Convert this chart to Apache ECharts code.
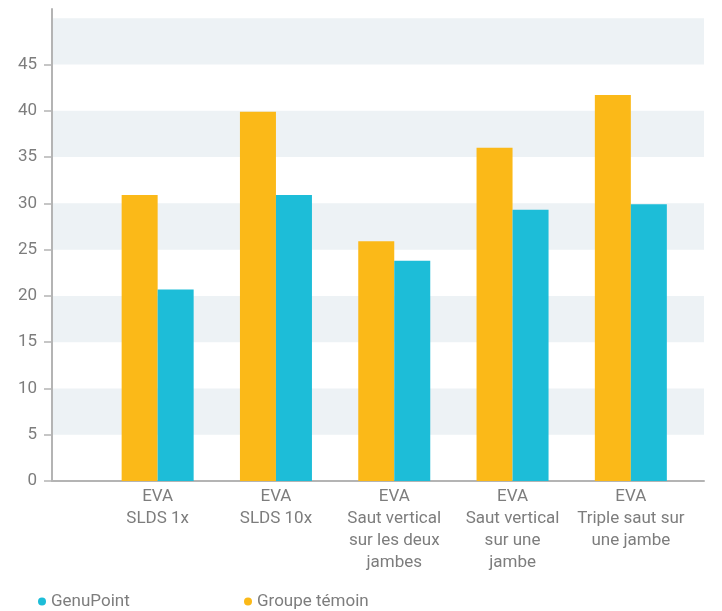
<!DOCTYPE html>
<html>
<head>
<meta charset="utf-8">
<script src="https://cdn.jsdelivr.net/npm/echarts@6/dist/echarts.min.js"></script>
<style>html,body{margin:0;padding:0;background:#fff}#c{width:722px;height:611px}</style>
</head>
<body>
<div id="c"></div>
<script>
const categories = ['EVA\nSLDS 1x', 'EVA\nSLDS 10x', 'EVA\nSaut vertical\nsur les deux\njambes', 'EVA\nSaut vertical\nsur une\njambe', 'EVA\nTriple saut sur\nune jambe'];
const groupeTemoin = [30.9, 39.9, 25.9, 36.0, 41.7];
const genuPoint = [20.7, 30.9, 23.8, 29.3, 29.9];
const yTickLabels = [0, 5, 10, 15, 20, 25, 30, 35, 40, 45];

const textColor = '#7d7d7d';
const axisColor = '#b4b4b4';
const fontFamily = 'Roboto, "Noto Sans", sans-serif';

const chart = echarts.init(document.getElementById('c'), null, {renderer: 'canvas'});
chart.setOption({
  animation: false,
  textStyle: {fontFamily: fontFamily},
  grid: [
    {left: 52, right: 18, top: 9, bottom: 130},
    {left: 98.5, right: 32, top: 9, bottom: 130}
  ],
  xAxis: [
    {gridIndex: 0, type: 'category', data: [''], axisLine: {lineStyle: {color: axisColor, width: 2}}, axisTick: {show: false}, axisLabel: {show: false}},
    {gridIndex: 1, type: 'category', data: categories, axisLine: {show: false}, axisTick: {show: false},
     axisLabel: {color: textColor, fontSize: 17, lineHeight: 22, margin: 5, interval: 0, fontFamily: fontFamily}}
  ],
  yAxis: [
    {gridIndex: 0, type: 'value', min: 0, max: 51, interval: 5,
     axisLine: {show: false}, axisTick: {show: false}, axisLabel: {show: false},
     splitLine: {show: false},
     splitArea: {show: true, areaStyle: {color: ['rgba(255,255,255,0)', '#edf2f5']}}},
    {gridIndex: 1, type: 'value', min: 0, max: 51, interval: 5, offset: 46.5,
     axisLine: {show: true, lineStyle: {color: axisColor, width: 2}},
     axisTick: {show: true, length: 8, lineStyle: {color: axisColor, width: 1.5}, customValues: yTickLabels},
     axisLabel: {color: textColor, fontSize: 17, margin: 15, customValues: yTickLabels, fontFamily: fontFamily},
     splitLine: {show: false}, splitArea: {show: false}}
  ],
  legend: [
    {data: [{name: 'GenuPoint', icon: 'circle'}], left: 38, top: 593, padding: 0, itemWidth: 8, itemHeight: 8, itemGap: 0,
     textStyle: {color: textColor, fontSize: 17, fontFamily: fontFamily}},
    {data: [{name: 'Groupe témoin', icon: 'circle'}], left: 244, top: 593, padding: 0, itemWidth: 8, itemHeight: 8, itemGap: 0,
     textStyle: {color: textColor, fontSize: 17, fontFamily: fontFamily}}
  ],
  series: [
    {name: 'Groupe témoin', type: 'bar', xAxisIndex: 1, yAxisIndex: 1, data: groupeTemoin, barWidth: 36, barGap: '0%', itemStyle: {color: '#fbb918'}},
    {name: 'GenuPoint', type: 'bar', xAxisIndex: 1, yAxisIndex: 1, data: genuPoint, barWidth: 36, barGap: '0%', itemStyle: {color: '#1dbdd8'}}
  ]
});
</script>
</body>
</html>
